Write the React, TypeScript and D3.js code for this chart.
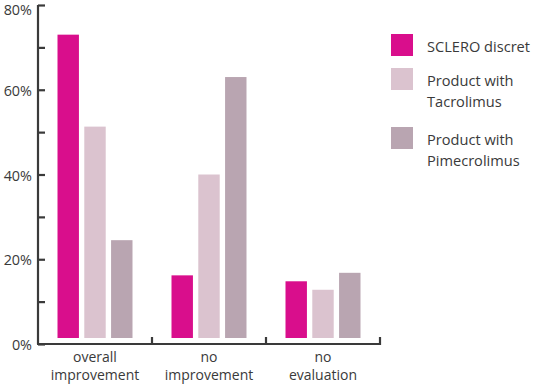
import React, {useEffect, useRef} from 'react'
import * as d3 from 'd3'

const categories = [['overall', 'improvement'], ['no', 'improvement'], ['no', 'evaluation']]
const seriesNames = [['SCLERO discret'], ['Product with', 'Tacrolimus'], ['Product with', 'Pimecrolimus']]
const seriesColors = ['#d90e8c', '#dbc3cf', '#b9a5b1']
const sclero = [73, 16.2, 14.8]
const tacrolimus = [51.3, 40, 12.8]
const pimecrolimus = [24.5, 63, 16.8]
const yTicks = [0, 20, 40, 60, 80]

const App = () => {
	const ref = useRef<SVGSVGElement>(null)

	useEffect(() => {
		const svg = d3.select(ref.current)
		svg.selectAll('*').remove()

		const values = [sclero, tacrolimus, pimecrolimus]
		const font = '"Open Sans", sans-serif'
		const ink = '#3a3a3a'

		const y = d3.scaleLinear().domain([0, 80]).range([344, 5])
		const x0 = d3.scaleBand().domain(categories.map((c, i) => String(i))).range([38, 380])
		const x1 = d3.scaleBand().domain(['0', '1', '2']).range([19.5, 94.5]).paddingInner(0.2)
		const baseline = 338

		// bars
		const groups = svg.selectAll('g.grp')
			.data(categories)
			.enter()
			.append('g')
			.attr('transform', (d, i) => `translate(${x0(String(i))},0)`)

		groups.selectAll('rect')
			.data((d, i) => values.map((v, s) => ({s, v: v[i]})))
			.enter()
			.append('rect')
			.attr('x', d => x1(String(d.s)))
			.attr('width', x1.bandwidth())
			.attr('y', d => y(d.v))
			.attr('height', d => baseline - y(d.v))
			.attr('fill', d => seriesColors[d.s])

		// y axis
		const yAxis = d3.axisRight(y).ticks(8).tickSize(7).tickFormat(() => '')
		const ya = svg.append('g').attr('transform', 'translate(38,0)').call(yAxis)
		ya.select('.domain').attr('d', `M0,${y(80)}V${y(0)}`)
		ya.selectAll('path, line').attr('stroke', ink).attr('stroke-width', 2.2)

		// top label nudged down so it is not clipped
		svg.selectAll('text.ytick')
			.data(yTicks)
			.enter()
			.append('text')
			.attr('x', 32)
			.attr('y', d => Math.max(y(d) + 6, 15))
			.attr('text-anchor', 'end')
			.attr('font-family', font)
			.attr('font-size', 14.4)
			.attr('fill', ink)
			.text(d => `${d}%`)

		// x axis
		svg.append('path')
			.attr('d', `M37,${y(0)}H380`)
			.attr('stroke', ink)
			.attr('stroke-width', 2.2)
			.attr('fill', 'none')
		const bounds = categories.map((c, i) => x0(String(i))! + x0.bandwidth())
		svg.selectAll('line.xtick')
			.data(bounds)
			.enter()
			.append('line')
			.attr('x1', d => d).attr('x2', d => d)
			.attr('y1', y(0) + 1).attr('y2', y(0) - 7)
			.attr('stroke', ink)
			.attr('stroke-width', 2.2)

		groups.append('text')
			.attr('text-anchor', 'middle')
			.attr('font-family', font)
			.attr('font-size', 14)
			.attr('fill', ink)
			.selectAll('tspan')
			.data(d => d)
			.enter()
			.append('tspan')
			.attr('x', x0.bandwidth() / 2)
			.attr('y', (d, i) => 361.5 + i * 18)
			.text(d => d)

		// legend
		const legendY = [34, 68, 127]
		const legend = svg.selectAll('g.leg')
			.data(seriesNames)
			.enter()
			.append('g')
			.attr('transform', (d, i) => `translate(391,${legendY[i]})`)
		legend.append('rect')
			.attr('width', 22)
			.attr('height', 22)
			.attr('fill', (d, i) => seriesColors[i])
		legend.append('text')
			.attr('font-family', font)
			.attr('font-size', 14.6)
			.attr('fill', ink)
			.selectAll('tspan')
			.data(d => d)
			.enter()
			.append('tspan')
			.attr('x', 36)
			.attr('y', (d, i) => 17.5 + i * 21.5)
			.text(d => d)
	}, [])

	return (
		<svg ref={ref} width={533} height={384} style={{position: 'absolute', left: 0, top: 0, background: '#fff'}}/>
	)
}

export default App
